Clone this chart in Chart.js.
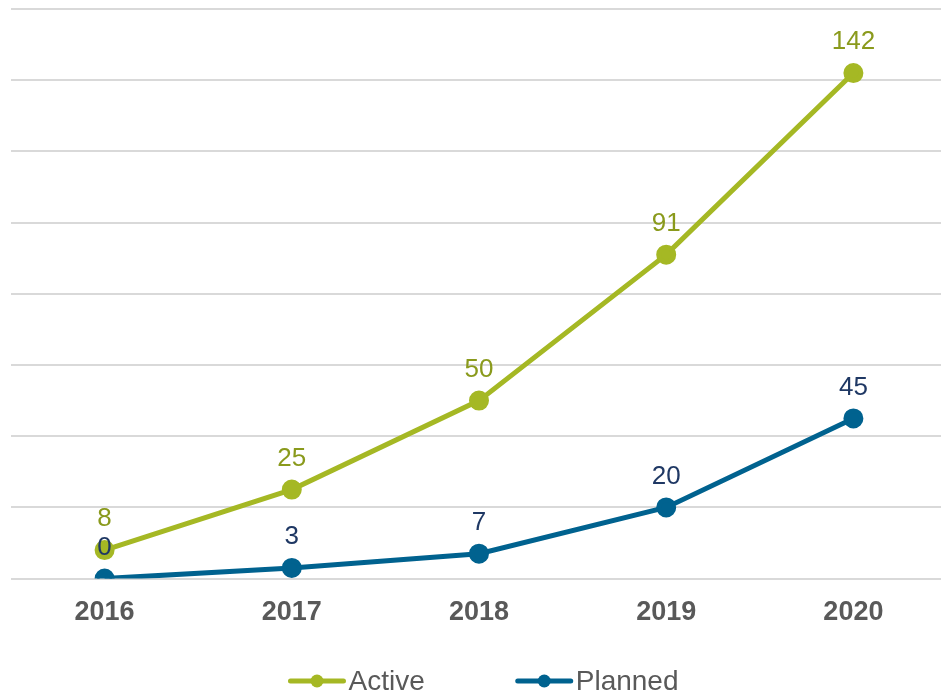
<!DOCTYPE html>
<html>
<head>
<meta charset="utf-8">
<script src="https://cdn.jsdelivr.net/npm/chart.js@4"></script>
<style>
  body { margin: 0; background: #fff; overflow: hidden; }
  #wrap { width: 941px; height: 695px; overflow: hidden; }
</style>
</head>
<body>
<!-- canvas a bit wider than the page: the plot runs off the right edge like the original -->
<div id="wrap"><canvas id="lineChart" width="947" height="695"></canvas></div>
<script>
// Data
const years = ["2016", "2017", "2018", "2019", "2020"];
const active = [8, 25, 50, 91, 142];
const planned = [0, 3, 7, 20, 45];

const activeColor = "#a5b824";
const activeLabel = "#8a9a1c";
const plannedColor = "#00628f";
const plannedLabel = "#1f3864";
const fontFam = "'Liberation Sans', Arial, sans-serif";

// value labels above points
const valueLabels = {
  id: "valueLabels",
  afterDatasetsDraw(chart) {
    const ctx = chart.ctx;
    ctx.save();
    ctx.font = "26px " + fontFam;
    ctx.textAlign = "center";
    ctx.textBaseline = "middle";
    chart.data.datasets.forEach((ds, i) => {
      const meta = chart.getDatasetMeta(i);
      ctx.fillStyle = ds.labelColor;
      meta.data.forEach((pt, j) => {
        ctx.fillText(ds.data[j], pt.x, pt.y - 31);
      });
    });
    ctx.restore();
  }
};

// legend: short line with a dot, then the name
const lineLegend = {
  id: "lineLegend",
  afterDraw(chart) {
    const ctx = chart.ctx;
    const y = chart.height - 14;
    const markW = 57, gapText = 3, gapItem = 91;
    ctx.save();
    ctx.font = "28px " + fontFam;
    ctx.textBaseline = "middle";
    const items = chart.data.datasets.map(ds => ({
      ds, w: markW + gapText + ctx.measureText(ds.label).width
    }));
    const total = items.reduce((s, it) => s + it.w, 0) + gapItem * (items.length - 1);
    let x = (chart.chartArea.left + chart.chartArea.right - total) / 2 + 4.5;
    items.forEach(it => {
      const c = it.ds.borderColor;
      ctx.strokeStyle = c;
      ctx.lineWidth = 5;
      ctx.lineCap = "round";
      ctx.beginPath();
      ctx.moveTo(x + 2, y);
      ctx.lineTo(x + markW - 2, y);
      ctx.stroke();
      ctx.fillStyle = c;
      ctx.beginPath();
      ctx.arc(x + markW / 2, y, 6.5, 0, Math.PI * 2);
      ctx.fill();
      ctx.fillStyle = "#595959";
      ctx.fillText(it.ds.label, x + markW + gapText, y + 1);
      x += it.w + gapItem;
    });
    ctx.restore();
  }
};

let ctx = document.getElementById("lineChart").getContext("2d");
let chart = new Chart(ctx, {
  type: "line",
  data: {
    labels: years,
    datasets: [
      {
        label: "Active",
        data: active,
        borderColor: activeColor,
        backgroundColor: activeColor,
        labelColor: activeLabel,
        borderWidth: 5,
        pointRadius: 7.5,
        pointHoverRadius: 7.5,
        tension: 0
      },
      {
        label: "Planned",
        data: planned,
        borderColor: plannedColor,
        backgroundColor: plannedColor,
        labelColor: plannedLabel,
        borderWidth: 5,
        pointRadius: 7.5,
        pointHoverRadius: 7.5,
        tension: 0
      }
    ]
  },
  options: {
    responsive: false,
    animation: false,
    layout: { autoPadding: false, padding: { left: 11, right: 0, top: 9, bottom: 56 } },
    plugins: {
      tooltip: { enabled: false },
      legend: { display: false }
    },
    scales: {
      x: {
        offset: true,
        grid: { display: false },
        border: { display: false },
        ticks: {
          color: "#595959",
          padding: 10,
          font: { size: 27, weight: "bold", family: fontFam }
        }
      },
      y: {
        min: 0,
        max: 160,
        ticks: { display: false, stepSize: 20 },
        border: { display: false },
        grid: { color: "#d9d9d9", lineWidth: 2, drawTicks: false }
      }
    }
  },
  plugins: [valueLabels, lineLegend]
});
</script>
</body>
</html>
